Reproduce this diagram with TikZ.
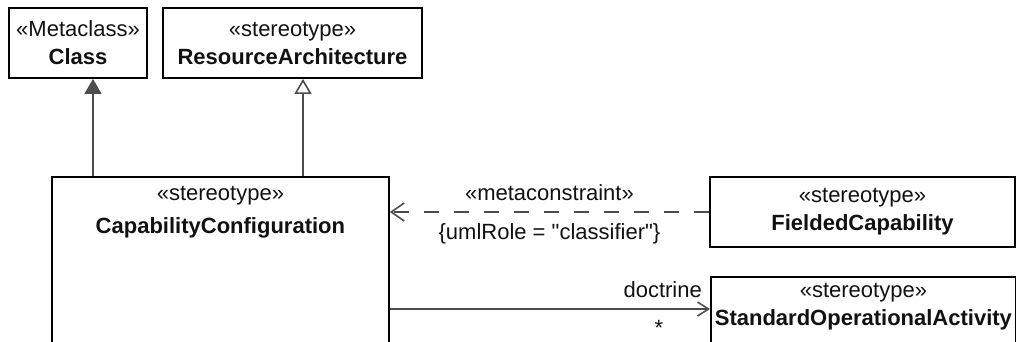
\documentclass[tikz,border=0pt]{standalone}
\usepackage{fontspec}
\setmainfont{Liberation Sans}[Ligatures=TeXOff]
\usetikzlibrary{arrows.meta, positioning}
\definecolor{linegray}{HTML}{4D4D4D}
\definecolor{textblack}{HTML}{111111}

\begin{document}
\begin{tikzpicture}[
  x=1pt, y=-1pt,
  every node/.style={font=\fontsize{22}{28}\selectfont, text=textblack},
  umlbox/.style={draw=black, line width=1.8pt, align=center, inner sep=0pt},
  linetext/.style={anchor=base, inner sep=0pt},
  link/.style={draw=linegray, line width=1.6pt},
  extends/.style={link, -{Triangle[length=15pt, width=17pt, fill=linegray]}},
  realizes/.style={link, -{Triangle[open, length=15pt, width=17pt, fill=white]}},
  depends/.style={link, dash pattern=on 15pt off 15pt, -{Straight Barb[length=13pt, width=18pt, line width=1.6pt]}},
  assoc/.style={link, -{Straight Barb[length=11pt, width=14pt, line width=1.6pt]}}
]
  \useasboundingbox (0,0) rectangle (1016,341);
  \clip (0,0) rectangle (1016,341);

  % metaclass and stereotypes at the top
  \node[umlbox, minimum width=138pt, minimum height=70pt] (cls) at (78,43) {«Metaclass»\\\textbf{Class}};
  \node[umlbox, minimum width=259pt, minimum height=70pt] (ra) at (292.5,43) {«stereotype»\\\textbf{ResourceArchitecture}};

  % main stereotype, runs off the bottom
  \node[umlbox, anchor=north west, minimum width=337pt, minimum height=250pt] (cc) at (51,176) {};
  \node[linetext] (ccst) at ([yshift=-24pt]cc.north) {«stereotype»};
  \node[linetext] (ccname) at ([yshift=-57pt]cc.north) {\textbf{CapabilityConfiguration}};

  \node[umlbox, minimum width=305pt, minimum height=70pt] (fc) at (862.5,212) {«stereotype»\\\textbf{FieldedCapability}};

  \node[umlbox, anchor=north west, minimum width=305pt, minimum height=200pt] (soa) at (710,276) {};
  \node[linetext] (soast) at ([yshift=-21pt]soa.north) {«stereotype»};
  \node[linetext] (soaname) at ([yshift=-49pt]soa.north) {\textbf{StandardOperationalActivity}};

  % generalization / extension
  \draw[extends] ([xshift=42pt]cc.north west) -- ([xshift=42pt]cc.north west |- cls.south);
  \draw[realizes] ([xshift=252pt]cc.north west) -- ([xshift=252pt]cc.north west |- ra.south);

  % metaconstraint
  \draw[depends] (fc.west) -- (fc.west -| cc.east)
    node[midway, above=7pt] (mc) {«metaconstraint»}
    node[midway, below=7pt] (role) {\{umlRole = "classifier"\}};

  % doctrine association
  \coordinate (doc) at ([yshift=-33pt]soa.north west);
  \draw[assoc] (doc -| cc.east) -- (doc);
  \node[anchor=base east, inner sep=0pt] (docname) at ([shift={(-8pt,12pt)}]doc) {doctrine};
  \node[linetext] (docmult) at ([shift={(-51pt,-26pt)}]doc) {*};
\end{tikzpicture}
\end{document}
